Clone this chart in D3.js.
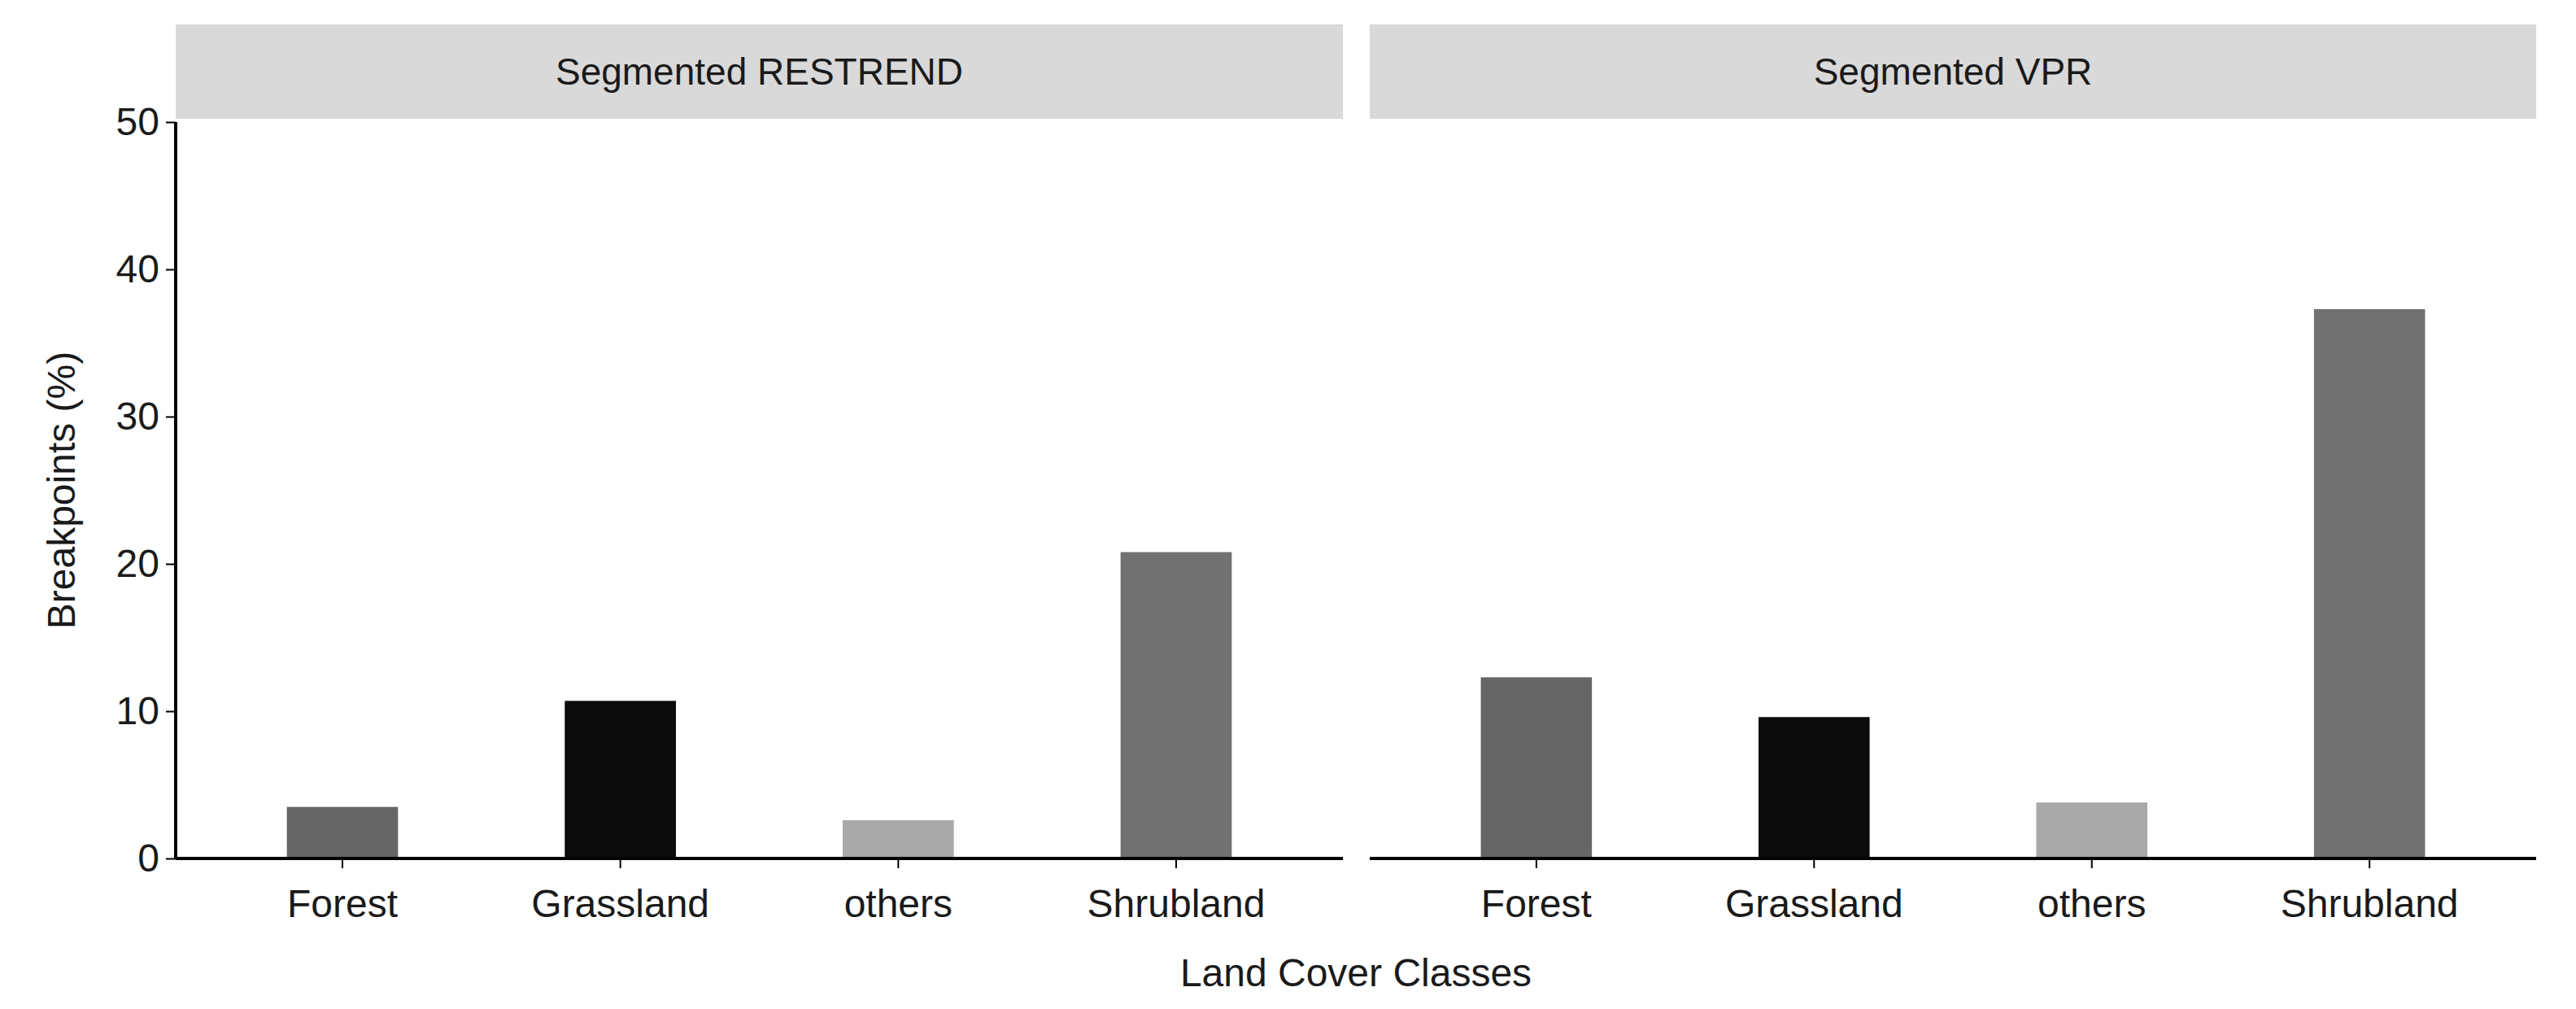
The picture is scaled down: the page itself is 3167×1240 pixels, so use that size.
<!DOCTYPE html>
<html>
<head>
<meta charset="UTF-8">
<script src="https://d3js.org/d3.v7.min.js"></script>
<style>body{margin:0;background:#fff}text{font-family:"Liberation Sans",Arial,sans-serif}</style>
</head>
<body>
<script>
const categories = ["Forest", "Grassland", "others", "Shrubland"];
const panels = ["Segmented RESTREND", "Segmented VPR"];
const restrendValues = [3.5, 10.7, 2.6, 20.8];
const vprValues = [12.3, 9.6, 3.8, 37.3];
const fills = ["#666666", "#0b0b0b", "#a9a9a9", "#717171"];
const yTicks = [0, 10, 20, 30, 40, 50];

const W = 3167, H = 1240;
const svg = d3.select("body").append("svg").attr("width", W).attr("height", H);

const panelX = [[216, 1651], [1684, 3118]];
const stripTop = 30, stripBottom = 146;
const y = d3.scaleLinear().domain([0, 50]).range([1055, 150]);
const seriesList = [restrendValues, vprValues];

panels.forEach((name, p) => {
  const [x0, x1] = panelX[p];
  const g = svg.append("g");
  g.append("rect").attr("x", x0).attr("y", stripTop).attr("width", x1 - x0)
    .attr("height", stripBottom - stripTop).attr("fill", "#d9d9d9");
  g.append("text").attr("x", (x0 + x1) / 2).attr("y", (stripTop + stripBottom) / 2)
    .attr("text-anchor", "middle").attr("dominant-baseline", "central")
    .attr("font-size", 46).attr("fill", "#1a1a1a").text(name);

  const x = d3.scaleBand().domain(categories).range([x0, x1]).paddingInner(0.6).paddingOuter(0.4);
  g.selectAll("rect.bar").data(seriesList[p]).join("rect").attr("class", "bar")
    .attr("x", (d, i) => x(categories[i])).attr("width", x.bandwidth())
    .attr("y", d => y(d)).attr("height", d => y(0) - y(d))
    .attr("fill", (d, i) => fills[i]);

  const ax = g.append("g").attr("transform", `translate(0,${y(0)})`)
    .call(d3.axisBottom(x).tickSize(12).tickPadding(26));
  ax.select(".domain").attr("stroke-width", 4).attr("d", `M${x0},0H${x1}`);
  ax.selectAll(".tick line").attr("stroke-width", 2);
  ax.selectAll("text").attr("font-size", 48).attr("fill", "#1a1a1a").attr("font-family", "Liberation Sans, Arial, sans-serif");
});

const ay = svg.append("g").attr("transform", `translate(${panelX[0][0]},0)`)
  .call(d3.axisLeft(y).tickValues(yTicks).tickSize(12).tickPadding(8));
ay.select(".domain").attr("stroke-width", 4).attr("d", `M0,${y(50)}V${y(0)}`);
ay.selectAll(".tick line").attr("stroke-width", 2);
ay.selectAll("text").attr("font-size", 48).attr("fill", "#1a1a1a").attr("font-family", "Liberation Sans, Arial, sans-serif");

svg.append("text").attr("transform", `translate(75,${(y(0) + y(50)) / 2}) rotate(-90)`)
  .attr("text-anchor", "middle").attr("dominant-baseline", "central")
  .attr("font-size", 48).attr("fill", "#1a1a1a").text("Breakpoints (%)");
svg.append("text").attr("x", (panelX[0][0] + panelX[1][1]) / 2).attr("y", 1212)
  .attr("text-anchor", "middle").attr("font-size", 48).attr("fill", "#1a1a1a").text("Land Cover Classes");
</script>
</body>
</html>
